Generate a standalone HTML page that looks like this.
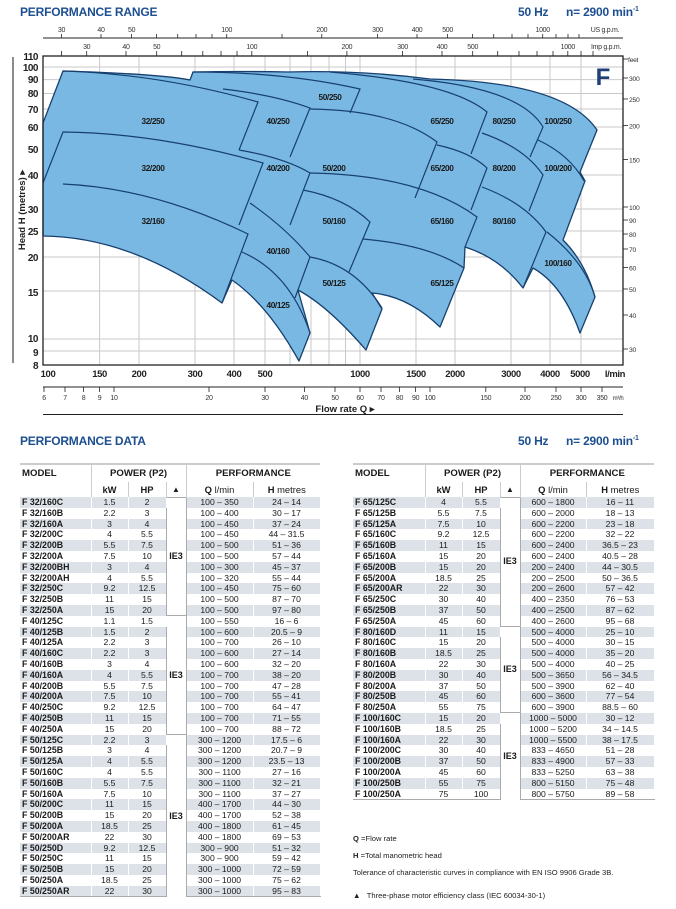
<!DOCTYPE html>
<html><head><meta charset="utf-8">
<style>
*{margin:0;padding:0;box-sizing:border-box}
body{width:676px;height:909px;background:#fff;position:relative;overflow:hidden;font-family:"Liberation Sans",sans-serif;color:#1a1a1a}
.h{position:absolute;font-weight:bold;color:#1d4f91;font-size:12px;letter-spacing:-0.2px}
table{position:absolute;border-collapse:collapse;table-layout:fixed;font-size:8.6px}
td{padding:0;height:10.8px;line-height:10.8px;text-align:center;white-space:nowrap;overflow:hidden;border-right:1px solid #fff}
td.m{text-align:left;font-weight:bold;padding-left:2px;font-size:8.8px}
tr.g td{background:#dde2e8}
tr.g td.t,td.t{background:#fff;border-left:1px solid #aaa;border-right:1px solid #aaa}
td.t{font-weight:bold;font-size:9px}
tr.sep td.t{border-top:1px solid #aaa}
th{font-weight:bold;font-size:9.6px;padding:0;text-align:center;white-space:nowrap}
th.r1{height:18px;vertical-align:middle}
th.r2{height:15px;font-size:9.4px}
.hdr1 th{border-top:2px solid #ccc}
th.bl{border-left:1px solid #ccc}
tr.last td{border-bottom:1.5px solid #aaa}
.fn{position:absolute;left:353px;font-size:7.6px;color:#222}
</style></head><body>

<div class="h" style="left:20px;top:5px">PERFORMANCE RANGE</div>
<div class="h" style="left:518px;top:5px">50 Hz</div>
<div class="h" style="left:566px;top:5px">n= 2900 min<sup style="font-size:7px">-1</sup></div>

<svg width="676" height="420" style="position:absolute;left:0;top:0" font-family="Liberation Sans, sans-serif">
<g stroke="#c9c9c9" stroke-width="1">
<line x1="99.6" y1="56" x2="99.6" y2="365"/><line x1="139" y1="56" x2="139" y2="365"/><line x1="195" y1="56" x2="195" y2="365"/><line x1="234" y1="56" x2="234" y2="365"/><line x1="265" y1="56" x2="265" y2="365"/><line x1="290" y1="56" x2="290" y2="365"/><line x1="311" y1="56" x2="311" y2="365"/><line x1="329" y1="56" x2="329" y2="365"/><line x1="345.5" y1="56" x2="345.5" y2="365"/><line x1="360" y1="56" x2="360" y2="365"/><line x1="416" y1="56" x2="416" y2="365"/><line x1="455" y1="56" x2="455" y2="365"/><line x1="511" y1="56" x2="511" y2="365"/><line x1="550" y1="56" x2="550" y2="365"/><line x1="581" y1="56" x2="581" y2="365"/>
<line x1="43" y1="351" x2="623" y2="351"/><line x1="43" y1="339" x2="623" y2="339"/><line x1="43" y1="291" x2="623" y2="291"/><line x1="43" y1="257" x2="623" y2="257"/><line x1="43" y1="231" x2="623" y2="231"/><line x1="43" y1="209" x2="623" y2="209"/><line x1="43" y1="175" x2="623" y2="175"/><line x1="43" y1="149" x2="623" y2="149"/><line x1="43" y1="127" x2="623" y2="127"/><line x1="43" y1="109" x2="623" y2="109"/><line x1="43" y1="93.5" x2="623" y2="93.5"/><line x1="43" y1="79.6" x2="623" y2="79.6"/><line x1="43" y1="67" x2="623" y2="67"/>
</g>
<path d="M43,123 L63,71 Q160,74 190,80 L193,72 Q240,71 288,72 Q360,70 430,79 Q565,82 597,130 L580,172 L585,181 L563,240 Q585,262 595,297 L580,333 Q563,285 533,268 L523,288 Q500,258 465,247 L464,268 L440,327 Q408,296 372,293 L382,309 L366,350 Q328,306 298,290 L310,333 L299,361 Q268,305 232,280 L222,303 Q133,237 43,236 Z" fill="#79b8e2" stroke="#17406f" stroke-width="1.3" stroke-linejoin="round"/>
<g fill="none" stroke="#17406f" stroke-width="1.2">
<path d="M63,71 Q160,74 258,102 L239,150"/>
<path d="M43,183 L63,132 Q157,133 263,163 L239,225"/>
<path d="M63,184 Q153,188 248,234 L222,303"/>
<path d="M193,72 Q285,72 360,89 L350,113"/>
<path d="M223,89 Q275,95 310,108 L290,157"/>
<path d="M239,150 Q285,158 310,173 L290,225"/>
<path d="M250,203 Q286,228 310,257 L295,298"/>
<path d="M242,252 Q290,273 310,333"/>
<path d="M310,109 Q395,110 437,142 L415,198"/>
<path d="M303,190 Q345,198 370,222 L349,272"/>
<path d="M310,257 Q355,265 382,308"/>
<path d="M310,173 Q420,175 477,217 L465,247"/>
<path d="M363,239 Q430,245 464,268"/>
<path d="M330,72 Q451,82 487,112 L471,154"/>
<path d="M437,145 Q470,152 487,168 L471,210"/>
<path d="M413,79 Q520,88 543,127 L530,157"/>
<path d="M482,133 Q525,148 543,175 L529,211"/>
<path d="M482,187 Q525,203 546,232 L523,288"/>
<path d="M538,140 Q570,155 584,181"/>
<path d="M547,232 Q585,262 595,297"/>
</g>
<g font-size="8.3" font-weight="bold" fill="#1a1a1a" text-anchor="middle" letter-spacing="-0.4">
<text x="153" y="124">32/250</text><text x="153" y="171">32/200</text><text x="153" y="224">32/160</text>
<text x="278" y="124">40/250</text><text x="278" y="171">40/200</text><text x="278" y="254">40/160</text><text x="278" y="308">40/125</text>
<text x="330" y="100">50/250</text><text x="334" y="171">50/200</text><text x="334" y="224">50/160</text><text x="334" y="286">50/125</text>
<text x="442" y="124">65/250</text><text x="442" y="171">65/200</text><text x="442" y="224">65/160</text><text x="442" y="286">65/125</text>
<text x="504" y="124">80/250</text><text x="504" y="171">80/200</text><text x="504" y="224">80/160</text>
<text x="558" y="124">100/250</text><text x="558" y="171">100/200</text><text x="558" y="266">100/160</text>
</g>
<text x="603" y="85" font-size="24" font-weight="bold" fill="#1f3f78" text-anchor="middle">F</text>
<rect x="43" y="56" width="580" height="309" fill="none" stroke="#222" stroke-width="1.3"/>
<g font-size="10" font-weight="bold" text-anchor="end" fill="#222" letter-spacing="-0.5">
<text x="38" y="60">110</text><text x="38" y="71">100</text><text x="38" y="83">90</text><text x="38" y="97">80</text><text x="38" y="113">70</text><text x="38" y="131">60</text><text x="38" y="153">50</text><text x="38" y="179">40</text><text x="38" y="213">30</text><text x="38" y="235">25</text><text x="38" y="261">20</text><text x="38" y="296">15</text><text x="38" y="342">10</text><text x="38" y="356">9</text><text x="38" y="369">8</text>
</g>
<line x1="13" y1="57" x2="13" y2="363" stroke="#666" stroke-width="1.5"/>
<text transform="translate(25,210) rotate(-90)" font-size="9.5" font-weight="bold" text-anchor="middle" fill="#222">Head H  (metres)  ▸</text>
<g stroke="#222" stroke-width="0.8">
<line x1="623" y1="59" x2="628" y2="59"/><line x1="623" y1="78" x2="628" y2="78"/><line x1="623" y1="99" x2="628" y2="99"/><line x1="623" y1="125.5" x2="628" y2="125.5"/><line x1="623" y1="159.5" x2="628" y2="159.5"/><line x1="623" y1="207" x2="628" y2="207"/><line x1="623" y1="220" x2="628" y2="220"/><line x1="623" y1="234" x2="628" y2="234"/><line x1="623" y1="249" x2="628" y2="249"/><line x1="623" y1="267.5" x2="628" y2="267.5"/><line x1="623" y1="289" x2="628" y2="289"/><line x1="623" y1="315" x2="628" y2="315"/><line x1="623" y1="349" x2="628" y2="349"/>
</g>
<g font-size="6.8" fill="#333" letter-spacing="-0.3">
<text x="628" y="62">feet</text><text x="629" y="81">300</text><text x="629" y="102">250</text><text x="629" y="128.5">200</text><text x="629" y="162.5">150</text><text x="629" y="210">100</text><text x="629" y="223">90</text><text x="629" y="237">80</text><text x="629" y="252">70</text><text x="629" y="270.5">60</text><text x="629" y="292">50</text><text x="629" y="318">40</text><text x="629" y="352">30</text>
</g>
<line x1="43" y1="38" x2="623" y2="38" stroke="#222" stroke-width="1"/>
<g stroke="#222" stroke-width="0.8">
<line x1="61.5" y1="34" x2="61.5" y2="38"/><line x1="101" y1="34" x2="101" y2="38"/><line x1="131.6" y1="34" x2="131.6" y2="38"/><line x1="156.5" y1="34" x2="156.5" y2="38"/><line x1="177.7" y1="34" x2="177.7" y2="38"/><line x1="196" y1="34" x2="196" y2="38"/><line x1="212" y1="34" x2="212" y2="38"/><line x1="226.7" y1="34" x2="226.7" y2="38"/><line x1="282" y1="34" x2="282" y2="38"/><line x1="321.8" y1="34" x2="321.8" y2="38"/><line x1="377.5" y1="34" x2="377.5" y2="38"/><line x1="417" y1="34" x2="417" y2="38"/><line x1="447.6" y1="34" x2="447.6" y2="38"/><line x1="472.6" y1="34" x2="472.6" y2="38"/><line x1="493.7" y1="34" x2="493.7" y2="38"/><line x1="512" y1="34" x2="512" y2="38"/><line x1="528" y1="34" x2="528" y2="38"/><line x1="542.7" y1="34" x2="542.7" y2="38"/><line x1="556" y1="34" x2="556" y2="38"/><line x1="568" y1="34" x2="568" y2="38"/><line x1="579" y1="34" x2="579" y2="38"/>
</g>
<g font-size="7" fill="#333" text-anchor="middle" letter-spacing="-0.3">
<text x="61.5" y="32">30</text><text x="101" y="32">40</text><text x="131.6" y="32">50</text><text x="226.7" y="32">100</text><text x="321.8" y="32">200</text><text x="377.5" y="32">300</text><text x="417" y="32">400</text><text x="447.6" y="32">500</text><text x="542.7" y="32">1000</text>
<text x="605" y="32">US g.p.m.</text>
</g>
<g stroke="#222" stroke-width="0.8">
<line x1="61.5" y1="51" x2="61.5" y2="56"/><line x1="86.7" y1="51" x2="86.7" y2="56"/><line x1="126" y1="51" x2="126" y2="56"/><line x1="156.7" y1="51" x2="156.7" y2="56"/><line x1="181.7" y1="51" x2="181.7" y2="56"/><line x1="202.8" y1="51" x2="202.8" y2="56"/><line x1="221" y1="51" x2="221" y2="56"/><line x1="237" y1="51" x2="237" y2="56"/><line x1="251.8" y1="51" x2="251.8" y2="56"/><line x1="307.5" y1="51" x2="307.5" y2="56"/><line x1="346.9" y1="51" x2="346.9" y2="56"/><line x1="402.6" y1="51" x2="402.6" y2="56"/><line x1="442" y1="51" x2="442" y2="56"/><line x1="472.7" y1="51" x2="472.7" y2="56"/><line x1="497.7" y1="51" x2="497.7" y2="56"/><line x1="519" y1="51" x2="519" y2="56"/><line x1="537" y1="51" x2="537" y2="56"/><line x1="553" y1="51" x2="553" y2="56"/><line x1="567.8" y1="51" x2="567.8" y2="56"/><line x1="581" y1="51" x2="581" y2="56"/><line x1="593" y1="51" x2="593" y2="56"/>
</g>
<g font-size="7" fill="#333" text-anchor="middle" letter-spacing="-0.3">
<text x="86.7" y="49">30</text><text x="126" y="49">40</text><text x="156.7" y="49">50</text><text x="251.8" y="49">100</text><text x="346.9" y="49">200</text><text x="402.6" y="49">300</text><text x="442" y="49">400</text><text x="472.7" y="49">500</text><text x="567.8" y="49">1000</text>
<text x="606" y="49">Imp g.p.m.</text>
</g>
<g font-size="9.5" font-weight="bold" fill="#222" text-anchor="middle" letter-spacing="-0.4">
<text x="48" y="377">100</text><text x="99.6" y="377">150</text><text x="139" y="377">200</text><text x="195" y="377">300</text><text x="234" y="377">400</text><text x="265" y="377">500</text><text x="360" y="377">1000</text><text x="416" y="377">1500</text><text x="455" y="377">2000</text><text x="511" y="377">3000</text><text x="550" y="377">4000</text><text x="580" y="377">5000</text><text x="615" y="377">l/min</text>
</g>
<line x1="43" y1="387" x2="623" y2="387" stroke="#222" stroke-width="1"/>
<g stroke="#222" stroke-width="0.8">
<line x1="44" y1="387" x2="44" y2="392"/><line x1="65" y1="387" x2="65" y2="392"/><line x1="83.5" y1="387" x2="83.5" y2="392"/><line x1="99.6" y1="387" x2="99.6" y2="392"/><line x1="114" y1="387" x2="114" y2="392"/><line x1="209" y1="387" x2="209" y2="392"/><line x1="265" y1="387" x2="265" y2="392"/><line x1="304.4" y1="387" x2="304.4" y2="392"/><line x1="335" y1="387" x2="335" y2="392"/><line x1="360" y1="387" x2="360" y2="392"/><line x1="381" y1="387" x2="381" y2="392"/><line x1="399.5" y1="387" x2="399.5" y2="392"/><line x1="415.6" y1="387" x2="415.6" y2="392"/><line x1="430" y1="387" x2="430" y2="392"/><line x1="485.8" y1="387" x2="485.8" y2="392"/><line x1="525" y1="387" x2="525" y2="392"/><line x1="556" y1="387" x2="556" y2="392"/><line x1="581" y1="387" x2="581" y2="392"/><line x1="602" y1="387" x2="602" y2="392"/>
</g>
<g font-size="7" fill="#333" text-anchor="middle" letter-spacing="-0.3">
<text x="44" y="400">6</text><text x="65" y="400">7</text><text x="83.5" y="400">8</text><text x="99.6" y="400">9</text><text x="114" y="400">10</text><text x="209" y="400">20</text><text x="265" y="400">30</text><text x="304.4" y="400">40</text><text x="335" y="400">50</text><text x="360" y="400">60</text><text x="381" y="400">70</text><text x="399.5" y="400">80</text><text x="415.6" y="400">90</text><text x="430" y="400">100</text><text x="485.8" y="400">150</text><text x="525" y="400">200</text><text x="556" y="400">250</text><text x="581" y="400">300</text><text x="602" y="400">350</text><text x="618" y="400" font-size="6">m³/h</text>
</g>
<text x="345" y="412" font-size="9.5" font-weight="bold" fill="#222" text-anchor="middle">Flow rate  Q  ▸</text>
<line x1="43" y1="414.5" x2="623" y2="414.5" stroke="#222" stroke-width="1"/>
</svg>

<div class="h" style="left:20px;top:434px">PERFORMANCE DATA</div>
<div class="h" style="left:518px;top:434px">50 Hz</div>
<div class="h" style="left:566px;top:434px">n= 2900 min<sup style="font-size:7px">-1</sup></div>

<table style="left:20px;top:463px;width:300px">
<colgroup><col style="width:71px"><col style="width:37px"><col style="width:38px"><col style="width:20px"><col style="width:67px"><col style="width:67px"></colgroup>
<tr class="hdr1"><th class="r1" style="text-align:left;padding-left:2px">MODEL</th><th class="r1 bl" colspan="3">POWER (P2)</th><th class="r1 bl" colspan="2">PERFORMANCE</th></tr>
<tr><th class="r2"></th><th class="r2 bl">kW</th><th class="r2 bl">HP</th><th class="r2 bl" style="font-size:8px">▲</th><th class="r2 bl"><b>Q</b> <span style="font-weight:normal">l/min</span></th><th class="r2 bl"><b>H</b> <span style="font-weight:normal">metres</span></th></tr>
<tr class="g sep"><td class="m">F 32/160C</td><td>1.5</td><td>2</td><td class="t" rowspan="11">IE3</td><td>100 – 350</td><td>24 – 14</td></tr>
<tr><td class="m">F 32/160B</td><td>2.2</td><td>3</td><td>100 – 400</td><td>30 – 17</td></tr>
<tr class="g"><td class="m">F 32/160A</td><td>3</td><td>4</td><td>100 – 450</td><td>37 – 24</td></tr>
<tr><td class="m">F 32/200C</td><td>4</td><td>5.5</td><td>100 – 450</td><td>44 – 31.5</td></tr>
<tr class="g"><td class="m">F 32/200B</td><td>5.5</td><td>7.5</td><td>100 – 500</td><td>51 – 36</td></tr>
<tr><td class="m">F 32/200A</td><td>7.5</td><td>10</td><td>100 – 500</td><td>57 – 44</td></tr>
<tr class="g"><td class="m">F 32/200BH</td><td>3</td><td>4</td><td>100 – 300</td><td>45 – 37</td></tr>
<tr><td class="m">F 32/200AH</td><td>4</td><td>5.5</td><td>100 – 320</td><td>55 – 44</td></tr>
<tr class="g"><td class="m">F 32/250C</td><td>9.2</td><td>12.5</td><td>100 – 450</td><td>75 – 60</td></tr>
<tr><td class="m">F 32/250B</td><td>11</td><td>15</td><td>100 – 500</td><td>87 – 70</td></tr>
<tr class="g"><td class="m">F 32/250A</td><td>15</td><td>20</td><td>100 – 500</td><td>97 – 80</td></tr>
<tr class="sep"><td class="m">F 40/125C</td><td>1.1</td><td>1.5</td><td class="t" rowspan="11">IE3</td><td>100 – 550</td><td>16 – 6</td></tr>
<tr class="g"><td class="m">F 40/125B</td><td>1.5</td><td>2</td><td>100 – 600</td><td>20.5 – 9</td></tr>
<tr><td class="m">F 40/125A</td><td>2.2</td><td>3</td><td>100 – 700</td><td>26 – 10</td></tr>
<tr class="g"><td class="m">F 40/160C</td><td>2.2</td><td>3</td><td>100 – 600</td><td>27 – 14</td></tr>
<tr><td class="m">F 40/160B</td><td>3</td><td>4</td><td>100 – 600</td><td>32 – 20</td></tr>
<tr class="g"><td class="m">F 40/160A</td><td>4</td><td>5.5</td><td>100 – 700</td><td>38 – 20</td></tr>
<tr><td class="m">F 40/200B</td><td>5.5</td><td>7.5</td><td>100 – 700</td><td>47 – 28</td></tr>
<tr class="g"><td class="m">F 40/200A</td><td>7.5</td><td>10</td><td>100 – 700</td><td>55 – 41</td></tr>
<tr><td class="m">F 40/250C</td><td>9.2</td><td>12.5</td><td>100 – 700</td><td>64 – 47</td></tr>
<tr class="g"><td class="m">F 40/250B</td><td>11</td><td>15</td><td>100 – 700</td><td>71 – 55</td></tr>
<tr><td class="m">F 40/250A</td><td>15</td><td>20</td><td>100 – 700</td><td>88 – 72</td></tr>
<tr class="g sep"><td class="m">F 50/125C</td><td>2.2</td><td>3</td><td class="t" rowspan="15">IE3</td><td>300 – 1200</td><td>17.5 – 6</td></tr>
<tr><td class="m">F 50/125B</td><td>3</td><td>4</td><td>300 – 1200</td><td>20.7 – 9</td></tr>
<tr class="g"><td class="m">F 50/125A</td><td>4</td><td>5.5</td><td>300 – 1200</td><td>23.5 – 13</td></tr>
<tr><td class="m">F 50/160C</td><td>4</td><td>5.5</td><td>300 – 1100</td><td>27 – 16</td></tr>
<tr class="g"><td class="m">F 50/160B</td><td>5.5</td><td>7.5</td><td>300 – 1100</td><td>32 – 21</td></tr>
<tr><td class="m">F 50/160A</td><td>7.5</td><td>10</td><td>300 – 1100</td><td>37 – 27</td></tr>
<tr class="g"><td class="m">F 50/200C</td><td>11</td><td>15</td><td>400 – 1700</td><td>44 – 30</td></tr>
<tr><td class="m">F 50/200B</td><td>15</td><td>20</td><td>400 – 1700</td><td>52 – 38</td></tr>
<tr class="g"><td class="m">F 50/200A</td><td>18.5</td><td>25</td><td>400 – 1800</td><td>61 – 45</td></tr>
<tr><td class="m">F 50/200AR</td><td>22</td><td>30</td><td>400 – 1800</td><td>69 – 53</td></tr>
<tr class="g"><td class="m">F 50/250D</td><td>9.2</td><td>12.5</td><td>300 – 900</td><td>51 – 32</td></tr>
<tr><td class="m">F 50/250C</td><td>11</td><td>15</td><td>300 – 900</td><td>59 – 42</td></tr>
<tr class="g"><td class="m">F 50/250B</td><td>15</td><td>20</td><td>300 – 1000</td><td>72 – 59</td></tr>
<tr><td class="m">F 50/250A</td><td>18.5</td><td>25</td><td>300 – 1000</td><td>75 – 62</td></tr>
<tr class="g last"><td class="m">F 50/250AR</td><td>22</td><td>30</td><td>300 – 1000</td><td>95 – 83</td></tr>
</table>

<table style="left:353px;top:463px;width:301px">
<colgroup><col style="width:72px"><col style="width:37px"><col style="width:38px"><col style="width:20px"><col style="width:66px"><col style="width:68px"></colgroup>
<tr class="hdr1"><th class="r1" style="text-align:left;padding-left:2px">MODEL</th><th class="r1 bl" colspan="3">POWER (P2)</th><th class="r1 bl" colspan="2">PERFORMANCE</th></tr>
<tr><th class="r2"></th><th class="r2 bl">kW</th><th class="r2 bl">HP</th><th class="r2 bl" style="font-size:8px">▲</th><th class="r2 bl"><b>Q</b> <span style="font-weight:normal">l/min</span></th><th class="r2 bl"><b>H</b> <span style="font-weight:normal">metres</span></th></tr>
<tr class="g sep"><td class="m">F 65/125C</td><td>4</td><td>5.5</td><td class="t" rowspan="12">IE3</td><td>600 – 1800</td><td>16 – 11</td></tr>
<tr><td class="m">F 65/125B</td><td>5.5</td><td>7.5</td><td>600 – 2000</td><td>18 – 13</td></tr>
<tr class="g"><td class="m">F 65/125A</td><td>7.5</td><td>10</td><td>600 – 2200</td><td>23 – 18</td></tr>
<tr><td class="m">F 65/160C</td><td>9.2</td><td>12.5</td><td>600 – 2200</td><td>32 – 22</td></tr>
<tr class="g"><td class="m">F 65/160B</td><td>11</td><td>15</td><td>600 – 2400</td><td>36.5 – 23</td></tr>
<tr><td class="m">F 65/160A</td><td>15</td><td>20</td><td>600 – 2400</td><td>40.5 – 28</td></tr>
<tr class="g"><td class="m">F 65/200B</td><td>15</td><td>20</td><td>200 – 2400</td><td>44 – 30.5</td></tr>
<tr><td class="m">F 65/200A</td><td>18.5</td><td>25</td><td>200 – 2500</td><td>50 – 36.5</td></tr>
<tr class="g"><td class="m">F 65/200AR</td><td>22</td><td>30</td><td>200 – 2600</td><td>57 – 42</td></tr>
<tr><td class="m">F 65/250C</td><td>30</td><td>40</td><td>400 – 2350</td><td>76 – 53</td></tr>
<tr class="g"><td class="m">F 65/250B</td><td>37</td><td>50</td><td>400 – 2500</td><td>87 – 62</td></tr>
<tr><td class="m">F 65/250A</td><td>45</td><td>60</td><td>400 – 2600</td><td>95 – 68</td></tr>
<tr class="g sep"><td class="m">F 80/160D</td><td>11</td><td>15</td><td class="t" rowspan="8">IE3</td><td>500 – 4000</td><td>25 – 10</td></tr>
<tr><td class="m">F 80/160C</td><td>15</td><td>20</td><td>500 – 4000</td><td>30 – 15</td></tr>
<tr class="g"><td class="m">F 80/160B</td><td>18.5</td><td>25</td><td>500 – 4000</td><td>35 – 20</td></tr>
<tr><td class="m">F 80/160A</td><td>22</td><td>30</td><td>500 – 4000</td><td>40 – 25</td></tr>
<tr class="g"><td class="m">F 80/200B</td><td>30</td><td>40</td><td>500 – 3650</td><td>56 – 34.5</td></tr>
<tr><td class="m">F 80/200A</td><td>37</td><td>50</td><td>500 – 3900</td><td>62 – 40</td></tr>
<tr class="g"><td class="m">F 80/250B</td><td>45</td><td>60</td><td>600 – 3600</td><td>77 – 54</td></tr>
<tr><td class="m">F 80/250A</td><td>55</td><td>75</td><td>600 – 3900</td><td>88.5 – 60</td></tr>
<tr class="g sep"><td class="m">F 100/160C</td><td>15</td><td>20</td><td class="t" rowspan="8">IE3</td><td>1000 – 5000</td><td>30 – 12</td></tr>
<tr><td class="m">F 100/160B</td><td>18.5</td><td>25</td><td>1000 – 5200</td><td>34 – 14.5</td></tr>
<tr class="g"><td class="m">F 100/160A</td><td>22</td><td>30</td><td>1000 – 5500</td><td>38 – 17.5</td></tr>
<tr><td class="m">F 100/200C</td><td>30</td><td>40</td><td>833 – 4650</td><td>51 – 28</td></tr>
<tr class="g"><td class="m">F 100/200B</td><td>37</td><td>50</td><td>833 – 4900</td><td>57 – 33</td></tr>
<tr><td class="m">F 100/200A</td><td>45</td><td>60</td><td>833 – 5250</td><td>63 – 38</td></tr>
<tr class="g"><td class="m">F 100/250B</td><td>55</td><td>75</td><td>800 – 5150</td><td>75 – 48</td></tr>
<tr class="last"><td class="m">F 100/250A</td><td>75</td><td>100</td><td>800 – 5750</td><td>89 – 58</td></tr>
</table>

<div class="fn" style="top:834px"><b>Q</b> =Flow rate</div>
<div class="fn" style="top:851px"><b>H</b> =Total manometric head</div>
<div class="fn" style="top:868px">Tolerance of characteristic curves in compliance with EN ISO 9906 Grade 3B.</div>
<div class="fn" style="top:891px">▲&nbsp;&nbsp; Three-phase motor efficiency class (IEC 60034-30-1)</div>
</body></html>
